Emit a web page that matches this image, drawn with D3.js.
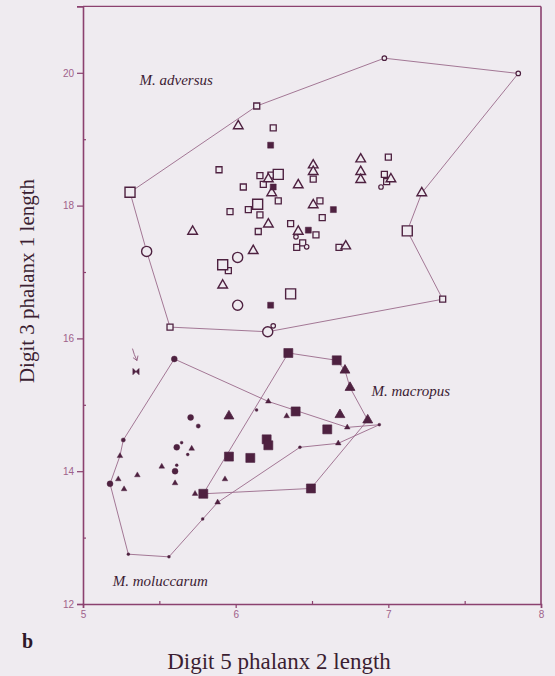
<!DOCTYPE html>
<html>
<head>
<meta charset="utf-8">
<script src="https://cdn.jsdelivr.net/npm/d3@7"></script>
<style>
  html, body { margin: 0; padding: 0; background: #efebf0; }
  svg { display: block; }
</style>
</head>
<body>
<svg id="chart" width="555" height="676"></svg>
<script>
// ---- Measurements: [digit 5 phalanx 2, digit 3 phalanx 1] ----

// M. adversus
const adversusSmallSquares = [
  [6.138,19.50],[6.246,19.17],[5.891,18.54],[6.159,18.45],[6.231,18.46],[6.05,18.28],
  [6.181,18.32],[6.279,18.07],[6.508,18.40],[6.083,17.94],[5.963,17.91],[6.159,17.86],
  [6.148,17.61],[6.36,17.73],[6.526,17.56],[6.40,17.37],[6.439,17.44],[6.552,18.07],
  [6.567,17.82],[6.677,17.37],[7.0,18.73],[6.974,18.47],[6.989,18.36],[5.952,17.02],
  [5.57,16.17],[7.356,16.59]
];
const adversusLargeSquares = [
  [6.279,18.47],[6.144,18.02],[5.308,18.20],[5.915,17.11],[6.36,16.67],[7.124,17.62]
];
const adversusTriangles = [
  [6.017,19.20],[6.214,18.40],[6.236,18.19],[6.41,18.31],[6.508,18.61],[6.508,18.51],
  [6.214,17.72],[6.41,17.61],[6.508,18.01],[6.115,17.32],[5.718,17.61],[5.915,16.80],
  [6.819,18.70],[6.819,18.51],[6.819,18.39],[7.017,18.40],[7.219,18.19],[6.721,17.39]
];
const adversusCircles = [[5.417,17.31],[6.013,17.22],[6.013,16.50],[6.21,16.10]];
const adversusSmallCircles = [
  [6.974,20.22],[7.851,19.99],[6.952,18.28],[6.395,17.53],[6.465,17.38],[6.246,16.19]
];
const adversusFilledSquares = [[6.229,18.91],[6.246,18.28],[6.476,17.63],[6.64,17.94],[6.229,16.50]];
const adversusOutline = [
  [6.138,19.50],[6.974,20.22],[7.851,19.99],[7.219,18.19],[7.124,17.62],[7.356,16.59],
  [6.21,16.10],[5.57,16.17],[5.417,17.31],[5.308,18.20]
];

// M. macropus
const macropusSquares = [
  [6.345,15.78],[6.662,15.67],[6.393,14.90],[6.60,14.63],[6.203,14.48],[6.214,14.39],
  [6.096,14.20],[5.956,14.22],[5.788,13.66],[6.493,13.74]
];
const macropusTriangles = [[6.716,15.52],[6.749,15.26],[6.865,14.77],[6.683,14.85],[5.956,14.83]];
const macropusOutline = [
  [6.345,15.78],[6.662,15.67],[6.716,15.52],[6.749,15.26],[6.865,14.77],[6.493,13.74],[5.788,13.66]
];

// M. moluccarum
const moluccarumCircles = [[5.598,15.69],[5.705,14.81],[5.614,14.36],[5.603,14.00],[5.177,13.81]];
const moluccarumSmallCircles = [[5.755,14.68],[5.264,14.47]];
const moluccarumTriangles = [
  [5.242,14.23],[5.231,13.88],[5.269,13.73],[5.356,13.94],[5.516,14.07],[5.712,14.34],
  [5.603,13.82],[5.734,13.66],[5.882,13.53],[5.93,13.88],[6.214,15.05],[6.334,14.83],
  [6.731,14.66],[6.672,14.42]
];
const moluccarumDots = [
  [5.646,14.43],[5.686,14.25],[5.614,14.09],[5.297,12.75],[5.563,12.71],[5.784,13.28],
  [6.137,14.92],[6.941,14.70],[6.421,14.36]
];
const moluccarumOutline = [
  [5.598,15.69],[6.214,15.05],[6.731,14.66],[6.941,14.70],[6.672,14.42],[6.421,14.36],
  [5.882,13.53],[5.563,12.71],[5.297,12.75],[5.177,13.81],[5.242,14.23],[5.264,14.47]
];

// Specimen flagged with an arrow
const flagged = [[5.347,15.50]];

// Axes
const xMajor = [5, 6, 7, 8];
const xMinor = [5.5, 6.5, 7.5];
const yMajor = [12, 14, 16, 18, 20];
const yMinor = [13, 15, 17, 19];
const xTitle = "Digit 5 phalanx 2 length";
const yTitle = "Digit 3 phalanx 1 length";
const panelLetter = "b";
const speciesLabels = [
  { name: "M. adversus", at: [5.37, 19.81] },
  { name: "M. macropus", at: [6.89, 15.14] },
  { name: "M. moluccarum", at: [5.195, 12.27] }
];

// ---- Drawing ----
const ink = "#4e2140";
const lineInk = "#9a6a8a";
const axisInk = "#8b416f";
const tickInk = "#a0628b";
const bg = "#efebf0";

const svg = d3.select("#chart");
svg.append("rect").attr("width", 555).attr("height", 676).attr("fill", bg);

const x = d3.scaleLinear().domain([5, 8]).range([83, 541]);
const y = d3.scaleLinear().domain([12, 21]).range([604, 6.4]);

// frame
const frame = svg.append("g");
frame.append("line").attr("x1", x(5)).attr("x2", x(8)).attr("y1", y(21)).attr("y2", y(21))
  .attr("stroke", axisInk).attr("stroke-width", 1.3);
frame.append("line").attr("x1", x(8)).attr("x2", x(8)).attr("y1", y(21)).attr("y2", y(12))
  .attr("stroke", axisInk).attr("stroke-width", 1.6);

function styleAxis(g) {
  g.selectAll(".domain").attr("stroke", axisInk).attr("stroke-width", 1.6);
  g.selectAll(".tick line").attr("stroke", axisInk).attr("stroke-width", 1.2);
  g.selectAll(".tick text").attr("fill", tickInk)
    .style("font-family", "'Liberation Sans', Arial, sans-serif").style("font-size", "10px");
}

svg.append("g").attr("transform", `translate(0,${y(12)})`)
  .call(d3.axisBottom(x).tickValues(xMajor).tickFormat(d3.format("d")).tickSize(4).tickPadding(3))
  .call(styleAxis);
svg.append("g").attr("transform", `translate(0,${y(12)})`)
  .call(d3.axisBottom(x).tickValues(xMinor).tickFormat("").tickSize(-3))
  .call(g => g.select(".domain").remove())
  .call(styleAxis);
svg.append("g").attr("transform", `translate(${x(5)},0)`)
  .call(d3.axisLeft(y).tickValues(yMajor).tickFormat(d3.format("d")).tickSize(6).tickPadding(3))
  .call(styleAxis);
svg.append("g").attr("transform", `translate(${x(5)},0)`)
  .call(d3.axisLeft(y).tickValues(yMinor).tickFormat("").tickSize(-3))
  .call(g => g.select(".domain").remove())
  .call(styleAxis);

// group outlines
const outline = d3.line().x(d => x(d[0])).y(d => y(d[1])).curve(d3.curveLinearClosed);
const outlines = svg.append("g").attr("fill", "none").attr("stroke", lineInk)
  .attr("stroke-width", 0.9).attr("stroke-linejoin", "round");
[adversusOutline, macropusOutline, moluccarumOutline].forEach(pts => {
  outlines.append("path").attr("d", outline(pts));
});

// markers
function plot(data, type, size, opts) {
  const sym = d3.symbol().type(type).size(size);
  svg.append("g").selectAll("path").data(data).join("path")
    .attr("transform", d => `translate(${x(d[0])},${y(d[1])})`)
    .attr("d", sym)
    .attr("fill", opts.filled ? ink : bg)
    .attr("stroke", ink)
    .attr("stroke-width", opts.sw || 1.3);
}

// M. adversus (open symbols)
plot(adversusSmallSquares, d3.symbolSquare, 36, { sw: 1.3 });
plot(adversusLargeSquares, d3.symbolSquare, 100, { sw: 1.4 });
plot(adversusTriangles, d3.symbolTriangle, 40, { sw: 1.4 });
plot(adversusCircles, d3.symbolCircle, 80, { sw: 1.4 });
plot(adversusSmallCircles, d3.symbolCircle, 16, { sw: 1.2 });
plot(adversusFilledSquares, d3.symbolSquare, 36, { filled: true, sw: 0.5 });

// M. macropus (large filled symbols)
plot(macropusSquares, d3.symbolSquare, 81, { filled: true, sw: 0.6 });
plot(macropusTriangles, d3.symbolTriangle, 42, { filled: true, sw: 0.8 });

// M. moluccarum (small filled symbols)
plot(moluccarumCircles, d3.symbolCircle, 28, { filled: true, sw: 0.4 });
plot(moluccarumSmallCircles, d3.symbolCircle, 14, { filled: true, sw: 0.4 });
plot(moluccarumTriangles, d3.symbolTriangle, 14, { filled: true, sw: 0.4 });
plot(moluccarumDots, d3.symbolCircle, 7, { filled: true, sw: 0.3 });

// flagged specimen: bow-tie marker with an arrow above it
const flagG = svg.append("g").selectAll("g").data(flagged).join("g")
  .attr("transform", d => `translate(${x(d[0])},${y(d[1])})`);
flagG.append("path").attr("d", "M-3,-3L3,3L3,-3L-3,3Z").attr("fill", ink).attr("stroke", ink).attr("stroke-width", 0.8);
flagG.append("path").attr("d", "M-3.5,-23Q-2,-17 1,-11M-3,-14L1,-11L2,-16")
  .attr("fill", "none").attr("stroke", lineInk).attr("stroke-width", 1);

// species names
svg.append("g").selectAll("text").data(speciesLabels).join("text")
  .attr("x", d => x(d.at[0])).attr("y", d => y(d.at[1]))
  .attr("fill", "#3d1c34")
  .style("font-family", "'Liberation Serif', 'Times New Roman', serif")
  .style("font-style", "italic").style("font-size", "15px")
  .text(d => d.name);

// axis titles and panel letter
svg.append("text").attr("x", 279).attr("y", 669)
  .attr("text-anchor", "middle").attr("fill", "#3b1e32")
  .style("font-family", "'Liberation Serif', 'Times New Roman', serif").style("font-size", "23px")
  .text(xTitle);
svg.append("text").attr("transform", `translate(34,${281}) rotate(-90)`)
  .attr("text-anchor", "middle").attr("fill", "#3b1e32")
  .style("font-family", "'Liberation Serif', 'Times New Roman', serif").style("font-size", "21px")
  .text(yTitle);
svg.append("text").attr("x", 22).attr("y", 648).attr("fill", "#2e1828")
  .style("font-family", "'Liberation Serif', 'Times New Roman', serif").style("font-size", "20px")
  .style("font-weight", "bold").text(panelLetter);
</script>
</body>
</html>
